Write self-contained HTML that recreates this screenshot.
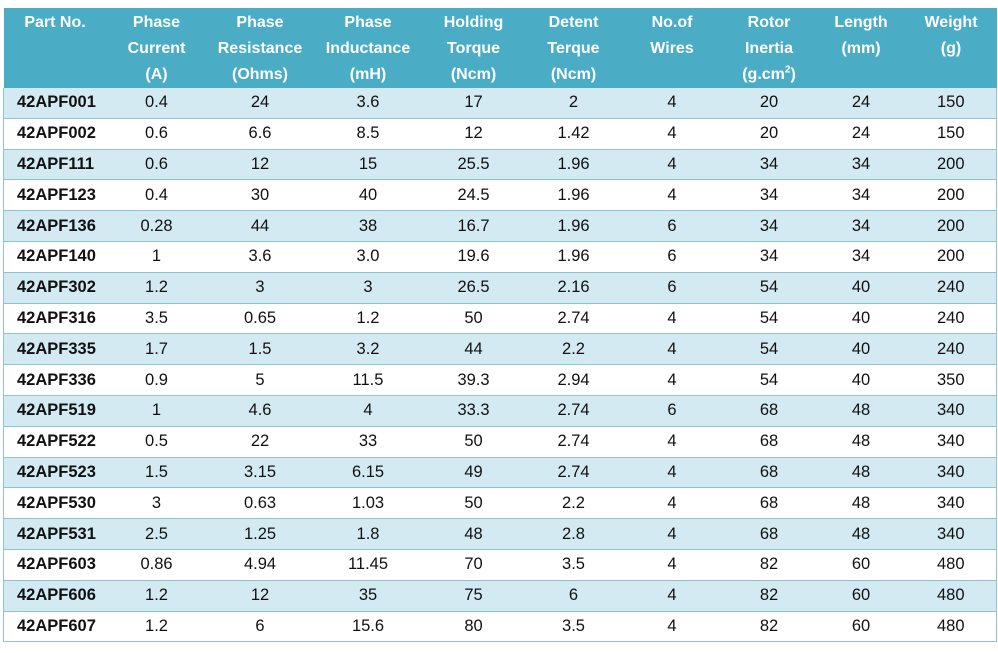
<!DOCTYPE html>
<html><head><meta charset="utf-8"><style>
body{margin:0;width:998px;height:653px;background:#fff;font-family:"Liberation Sans",sans-serif;overflow:hidden;position:relative}
table{position:absolute;left:3px;top:8px;border-collapse:collapse;width:993px;table-layout:fixed}
th{background:#4bacc6;color:#fff;font-weight:bold;font-size:16px;line-height:26px;height:78px;vertical-align:top;padding:2px 0 0 0;text-align:center}
td{font-size:16.5px;color:#111;text-align:center;height:29.8px;padding:0;border-bottom:1px solid #8cc4d0;line-height:29px}
tr.a td{background:#d3eaf2}
td.p{text-align:left;padding-left:13px;font-weight:bold}
tbody{border-left:1px solid #8cc4d0;border-right:1px solid #8cc4d0}
sup{font-size:10px;line-height:0}
</style></head><body>
<table>
<colgroup><col style="width:103px"><col style="width:100px"><col style="width:107px"><col style="width:109px"><col style="width:102px"><col style="width:98px"><col style="width:99px"><col style="width:95px"><col style="width:89px"><col style="width:91px"></colgroup>
<thead><tr>
<th>Part No.</th>
<th>Phase<br>Current<br>(A)</th>
<th>Phase<br>Resistance<br>(Ohms)</th>
<th>Phase<br>Inductance<br>(mH)</th>
<th>Holding<br>Torque<br>(Ncm)</th>
<th>Detent<br>Terque<br>(Ncm)</th>
<th>No.of<br>Wires</th>
<th>Rotor<br>Inertia<br>(g.cm<sup>2</sup>)</th>
<th>Length<br>(mm)</th>
<th>Weight<br>(g)</th>
</tr></thead>
<tbody id="tb"></tbody>
</table>
<script>
const rows=[
["42APF001","0.4","24","3.6","17","2","4","20","24","150"],
["42APF002","0.6","6.6","8.5","12","1.42","4","20","24","150"],
["42APF111","0.6","12","15","25.5","1.96","4","34","34","200"],
["42APF123","0.4","30","40","24.5","1.96","4","34","34","200"],
["42APF136","0.28","44","38","16.7","1.96","6","34","34","200"],
["42APF140","1","3.6","3.0","19.6","1.96","6","34","34","200"],
["42APF302","1.2","3","3","26.5","2.16","6","54","40","240"],
["42APF316","3.5","0.65","1.2","50","2.74","4","54","40","240"],
["42APF335","1.7","1.5","3.2","44","2.2","4","54","40","240"],
["42APF336","0.9","5","11.5","39.3","2.94","4","54","40","350"],
["42APF519","1","4.6","4","33.3","2.74","6","68","48","340"],
["42APF522","0.5","22","33","50","2.74","4","68","48","340"],
["42APF523","1.5","3.15","6.15","49","2.74","4","68","48","340"],
["42APF530","3","0.63","1.03","50","2.2","4","68","48","340"],
["42APF531","2.5","1.25","1.8","48","2.8","4","68","48","340"],
["42APF603","0.86","4.94","11.45","70","3.5","4","82","60","480"],
["42APF606","1.2","12","35","75","6","4","82","60","480"],
["42APF607","1.2","6","15.6","80","3.5","4","82","60","480"]];
const tb=document.getElementById('tb');
rows.forEach((r,i)=>{
const tr=document.createElement('tr');


if(i%2==0)tr.className='a';
r.forEach((v,j)=>{const td=document.createElement('td');


if(j==0)td.className='p';td.textContent=v;tr.appendChild(td);});
tb.appendChild(tr);});
</script>
</body></html>
